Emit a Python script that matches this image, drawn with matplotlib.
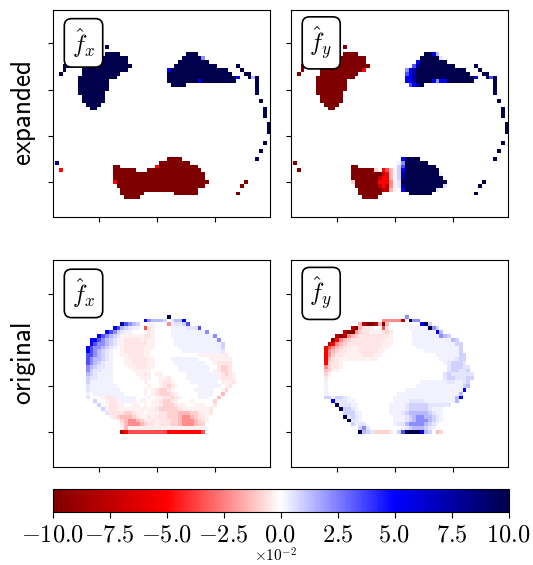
import re
import numpy as np
import matplotlib
matplotlib.use("Agg")
import matplotlib.pyplot as plt
from matplotlib.ticker import FormatStrFormatter

plt.rcParams["mathtext.fontset"] = "cm"

# Cell values, unit 1e-2. Each row is run-length coded, starting at column 3:
# "14.4j" = 14 empty cells then 4 cells of level j. Lower case positive, upper case negative.
LEVELS = {"a": 0.1, "b": 0.25, "c": 0.5, "d": 0.9, "e": 1.4,
          "f": 2.2, "g": 3.5, "h": 5.0, "i": 7.5, "j": 10.0}

# rows 16 to 55
fx_expanded = [
    "14.j", "", "14.4j17.3j", "13.7j14.5jf", "12.8j13.8j",
    "3.3j3.12j11.11j5.j", "3.j4.12j10.h15j3.j", "2.j5.10j12.17j3.2j",
    "7.10j13.18jh2.jej", "7.8j15.8jh9j5.j", "7.8j16.4j18.j", "7.8j38.j",
    "7.7j39.j", "8.6j", "8.6j40.j", "9.4j", "10.2j43.j", "55.j", "55.j", "",
    "56.j", "56.j", "56.j", "", "", "55.j", "", "54.j", "",
    "30.4J19.j", "1.i26.8J", "16.2J9.H10J", "2.H13.6J3.14J", "16.24J", "16.24J",
    "16.H24J9.J", "17.23JB8.J", "18.20J", "18.6J8.6J10.J", "19.4J",
]

fy_expanded = [
    "14.J", "", "14.4J17.2jhe", "13.7J14.5jc", "12.8J13.h7j",
    "3.3J3.12J11.gi9j5.j", "3.J4.11JH10.fhi13j3.j", "2.J5.10J12.ghi14j3.2j",
    "7.10J13.hhi15jh2.jgj", "7.8J15.hhi4jhfhh7j5.j", "7.8J16.ghij18.j", "7.8J38.j",
    "7.7J39.j", "8.6J", "8.6J40.j", "9.4J", "10.2J43.j", "55.j", "55.j", "",
    "56.j", "56.j", "56.j", "", "", "55.j", "", "54.j", "",
    "29.h4j19.j", "1.J26.bf6j", "16.2J10.dg8j", "2.J13.6JD.HGEBdh9j",
    "16.8JIHEBdi9jb", "16.7JIHHEBdi10j", "16.D6JHHHFBcj11j9.j",
    "17.6JIHIFBci10jc8.j", "18.6JIIEB.h8jc", "18.6J7.6j11.j", "19.4J",
]

# rows 21 to 51
fx_original = [
    "30.j", "24.hfeeed.ceeh", "18.igfed..bb...Fbccdg",
    "16.hgedcbb.GCB....bbbbcccg", "14.hgfdcbb...BCB....9bf",
    "12.hgfedc6BCCB....11bf", "10.hhgfedcbBCCCCBCBB5.11bf",
    "10.hgffedcbB6CBB5.12bd", "9.hgffedcb.B5CBBB6.11bd",
    "9.hgfedcb..B5CBB8.10bc", "9.ggfedcb..BB4CBB12.7BC",
    "9.gfeedcb...BB4CBB4.7b3.6B", "9.gfedcbb...BB4CBB5.8b2.BCCCC",
    "9.fedccbb....BB3CBB6.8b..CDDC", "9.fdccbbb5.B3BB7.8b.BCDDC",
    "9.edc4b6.BBCB.BB6.8bBCDCB", "9.dcc4b7.BBB..BBC4.8bBCCCB",
    "9.d6b8.B...BCCB4.7b.BBBC", "9.c7b8.B..BCDCB5.6b.BC",
    "9.c8b6.B.BCDDCB5.5b..BD", "9.b.8b5.B.BCDDDCB5.4b..E",
    "9.c...BCC6b3.B.BBCCDCB4.3b..E", "11.d..BCC4bB.BB.BBCDDCB3.B5.D",
    "12.d.BCCBB..BB.B.BBCDDDCBB..BBB..C", "13.dBCCBB6BBBC5DCBB4BBC",
    "14.cCCCCDDCBB.BBBCCDDDEEEDDCBBC", "15.BCD3EDCBBCBCCCDDDEFFEDCCB",
    "16.AADEFFEDCBCBCCCDDEFFFEDCB", "17.ACEFFFEDCCBCCCDDEFFFEDD",
    "18.BE20B", "18.IH10G3H6HG",
]

fy_original = [
    "30.f", "24.5FI.jff", "18.EIJJIEJE8.hjd", "16.IJECCB..GC5.5bjfd",
    "14.IJJFDCCBBBCDC5.6bhe", "12.IJIFEDCCCCCCCCB5.7bfed",
    "11.JHFEDCCCCCCCCCBB5.10bed", "10.IHFEDCCCCCCCCCBBB5.11bdd",
    "9.HGFEDCCBBCCCCCCBB7.11bd", "9.HFEDCCBBBCCCCCBB10.9bd",
    "9.HFDCCBBBBBCCCBB14.6bdd", "9.HECCBB4BBBBB16.4bcdd",
    "9.HDCCB26.bcdddc", "9.FDCCB27.cdddcc", "9.EDBB28.cddccd",
    "9.DB29.cdcccccc", "9.C30.cddcccdd", "9.b24.7bccbbcd", "9.b23.12bde",
    "9.b20.15bh", "9.b18.16be", "9.ddbddcb11.16beh", "11.hcccbb10.bbbb4c4b4be",
    "12.jcccbb8.3bbc5d5cc", "13.jddcb8.3bbc5dc3b", "14.dddbb7.3bcd5edcbb",
    "14.jcdcb8.3bcdeffeedcb", "15.jccb8.3bcdefffedcb", "16.dbcc7.bcce4fedcb",
    "18.dfc8.bcdeeedcb", "18.jedcDDDDC.dgjjjjhed.ED",
]

x_ticks = [15, 30, 45]
y_ticks = [15, 27, 39, 51]
cbar_ticks = [-10, -7.5, -5, -2.5, 0, 2.5, 5, 7.5, 10]
panel_titles = [r"$\hat{f}_x$", r"$\hat{f}_y$"]
row_titles = ["expanded", "original"]


def decode(rows, first_row):
    grid = np.full((64, 64), np.nan)
    for r, text in enumerate(rows):
        c = 3
        for count, ch in re.findall(r"(\d*)(\D)", text):
            n = int(count) if count else 1
            if ch != ".":
                sign = 1 if ch.islower() else -1
                grid[first_row + r, c:c + n] = sign * LEVELS[ch.lower()]
            c += n
    return grid


W, H = 533, 565
fig = plt.figure(figsize=(W / 100, H / 100), dpi=100)


def add_axes_px(left, top, right, bottom):
    return fig.add_axes([left / W, 1 - bottom / H, (right - left) / W, (bottom - top) / H])


fields = [
    [decode(fx_expanded, 16), decode(fy_expanded, 16)],
    [decode(fx_original, 21), decode(fy_original, 21)],
]
tops = [(9.7, 217), (260.3, 467.3)]
lefts = [(52.7, 269.7), (291.3, 508)]

for i in range(2):
    for j in range(2):
        ax = add_axes_px(lefts[j][0], tops[i][0], lefts[j][1], tops[i][1])
        im = ax.imshow(fields[i][j], cmap="seismic_r", vmin=-10, vmax=10,
                       aspect="auto", interpolation="nearest")
        ax.set_xlim(3, 59.3)
        ax.set_ylim(60.07, 6.26)
        ax.set_xticks(x_ticks)
        ax.set_yticks(y_ticks)
        ax.set_xticklabels([])
        ax.set_yticklabels([])
        ax.text(0.142 - 0.004 * j, 0.84, panel_titles[j], transform=ax.transAxes,
                ha="center", va="center", fontsize=17.5, zorder=5,
                bbox=dict(boxstyle="round,pad=0.3", fc="white", ec="black", lw=1.2))
    fig.text(24 / W, 1 - (tops[i][0] + tops[i][1]) / 2 / H,
             r"$\mathsf{" + row_titles[i] + "}$", rotation=90,
             ha="center", va="center", fontsize=19.5)

cax = add_axes_px(52.5, 489, 508.5, 512)
cb = fig.colorbar(im, cax=cax, orientation="horizontal", ticks=cbar_ticks)
cb.ax.xaxis.set_major_formatter(FormatStrFormatter("$%.1f$"))
cb.ax.tick_params(labelsize=17.5, length=4.5, pad=3)
fig.text(275 / W, 1 - 556 / H, r"$\times 10^{-2}$", ha="center", va="center", fontsize=11)

fig.savefig("out.png", dpi=100)
